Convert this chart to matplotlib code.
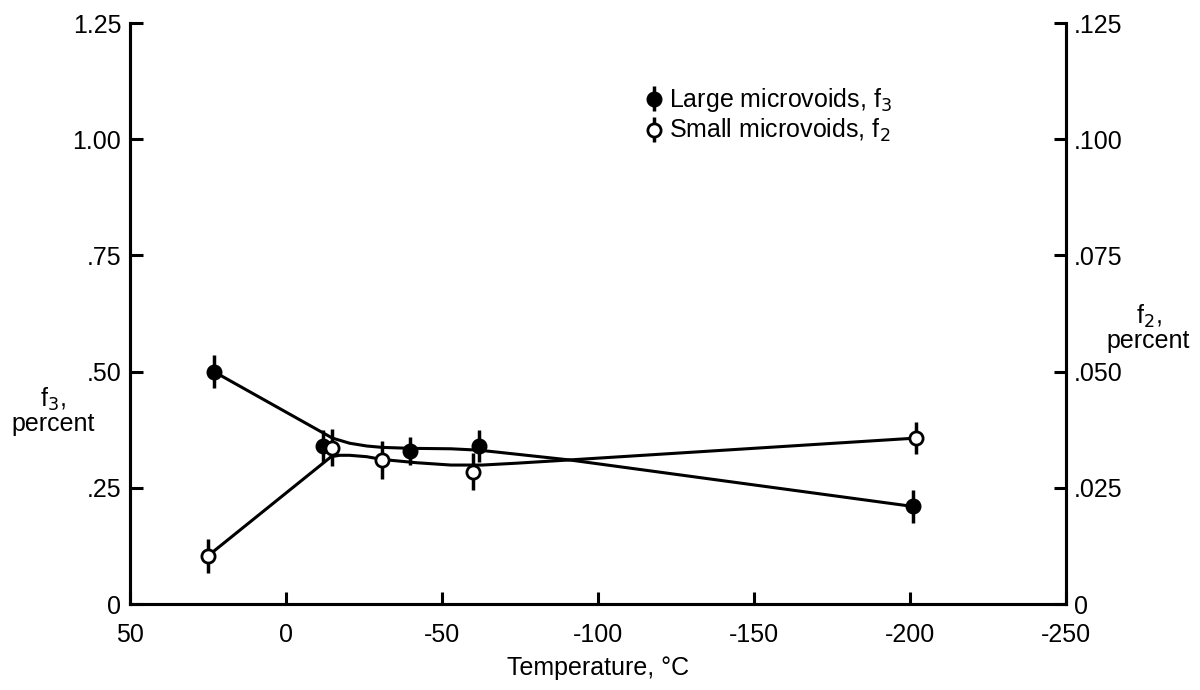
import matplotlib.pyplot as plt

plt.rcParams['font.family'] = ['Liberation Sans', 'DejaVu Sans']

# measured points (temperature in deg C)
temp_f3 = [23, -12, -40, -62, -201]
f3 = [0.50, 0.34, 0.33, 0.34, 0.21]
f3_err = [0.035, 0.035, 0.03, 0.035, 0.035]

temp_f2 = [25, -15, -31, -60, -202]
f2 = [0.0103, 0.0336, 0.0310, 0.0285, 0.0357]
f2_err = [0.0036, 0.004, 0.004, 0.004, 0.0035]

# faired curves through the data
curve_f3_t = [23, -15, -20.5, -26, -31, -40, -53, -62, -69, -91, -201]
curve_f3_v = [0.50, 0.357, 0.346, 0.340, 0.337, 0.335, 0.334, 0.331, 0.326, 0.31, 0.21]
curve_f2_t = [25, -14.6, -17.3, -20.5, -26, -31, -42, -53, -63, -74, -91, -202]
curve_f2_v = [0.0103, 0.0317, 0.0320, 0.0320, 0.0317, 0.0311, 0.0304, 0.0299, 0.0299, 0.0303, 0.0310, 0.0357]

left_ticks = [0, 0.25, 0.50, 0.75, 1.00, 1.25]
left_labels = ['0', '.25', '.50', '.75', '1.00', '1.25']
right_ticks = [0, 0.025, 0.050, 0.075, 0.100, 0.125]
right_labels = ['0', '.025', '.050', '.075', '.100', '.125']
x_ticks = [50, 0, -50, -100, -150, -200, -250]

fs = 18

fig = plt.figure(figsize=(12, 6.9), dpi=100)
ax = fig.add_axes([0.108, 0.1246, 0.78, 0.842])
ax2 = ax.twinx()

ax.plot(curve_f3_t, curve_f3_v, color='black', lw=2.2, zorder=2)
ax2.plot(curve_f2_t, curve_f2_v, color='black', lw=2.2, zorder=2)

ax.errorbar(temp_f3, f3, yerr=f3_err, fmt='o', color='black', ms=10.5,
            elinewidth=2.5, capsize=0, zorder=3, label='Large microvoids, f$_3$')
ax2.errorbar(temp_f2, f2, yerr=f2_err, fmt='o', color='black', mfc='white',
             mec='black', mew=2, ms=9.5, elinewidth=2.5, capsize=0, zorder=3,
             label='Small microvoids, f$_2$')

ax.set_xlim(50, -250)
ax.set_ylim(0, 1.25)
ax2.set_ylim(0, 0.125)

ax.set_xticks(x_ticks)
ax.set_xticklabels([str(t) for t in x_ticks])
ax.set_yticks(left_ticks)
ax.set_yticklabels(left_labels)
ax2.set_yticks(right_ticks)
ax2.set_yticklabels(right_labels)

for a in (ax, ax2):
    a.spines['top'].set_visible(False)
    for s in a.spines.values():
        s.set_linewidth(2.2)
    a.tick_params(direction='in', length=9, width=2.2, labelsize=fs, pad=6)
ax.tick_params(axis='x', pad=14)

ax.set_xlabel('Temperature, °C', fontsize=fs, labelpad=6)
fig.text(0.044, 0.405, 'f$_3$,\npercent', fontsize=fs, ha='center', va='center',
         multialignment='center', linespacing=0.95)
fig.text(0.957, 0.525, 'f$_2$,\npercent', fontsize=fs, ha='center', va='center',
         multialignment='center', linespacing=0.95)

h1, l1 = ax.get_legend_handles_labels()
h2, l2 = ax2.get_legend_handles_labels()
ax2.legend(h1 + h2, l1 + l2, loc='upper left', bbox_to_anchor=(0.54, 0.875),
           bbox_transform=fig.transFigure, frameon=False, fontsize=fs,
           handlelength=0.5, handletextpad=0.35, labelspacing=0.12,
           borderaxespad=0, borderpad=0, numpoints=1)

fig.savefig('out.png', dpi=100)
